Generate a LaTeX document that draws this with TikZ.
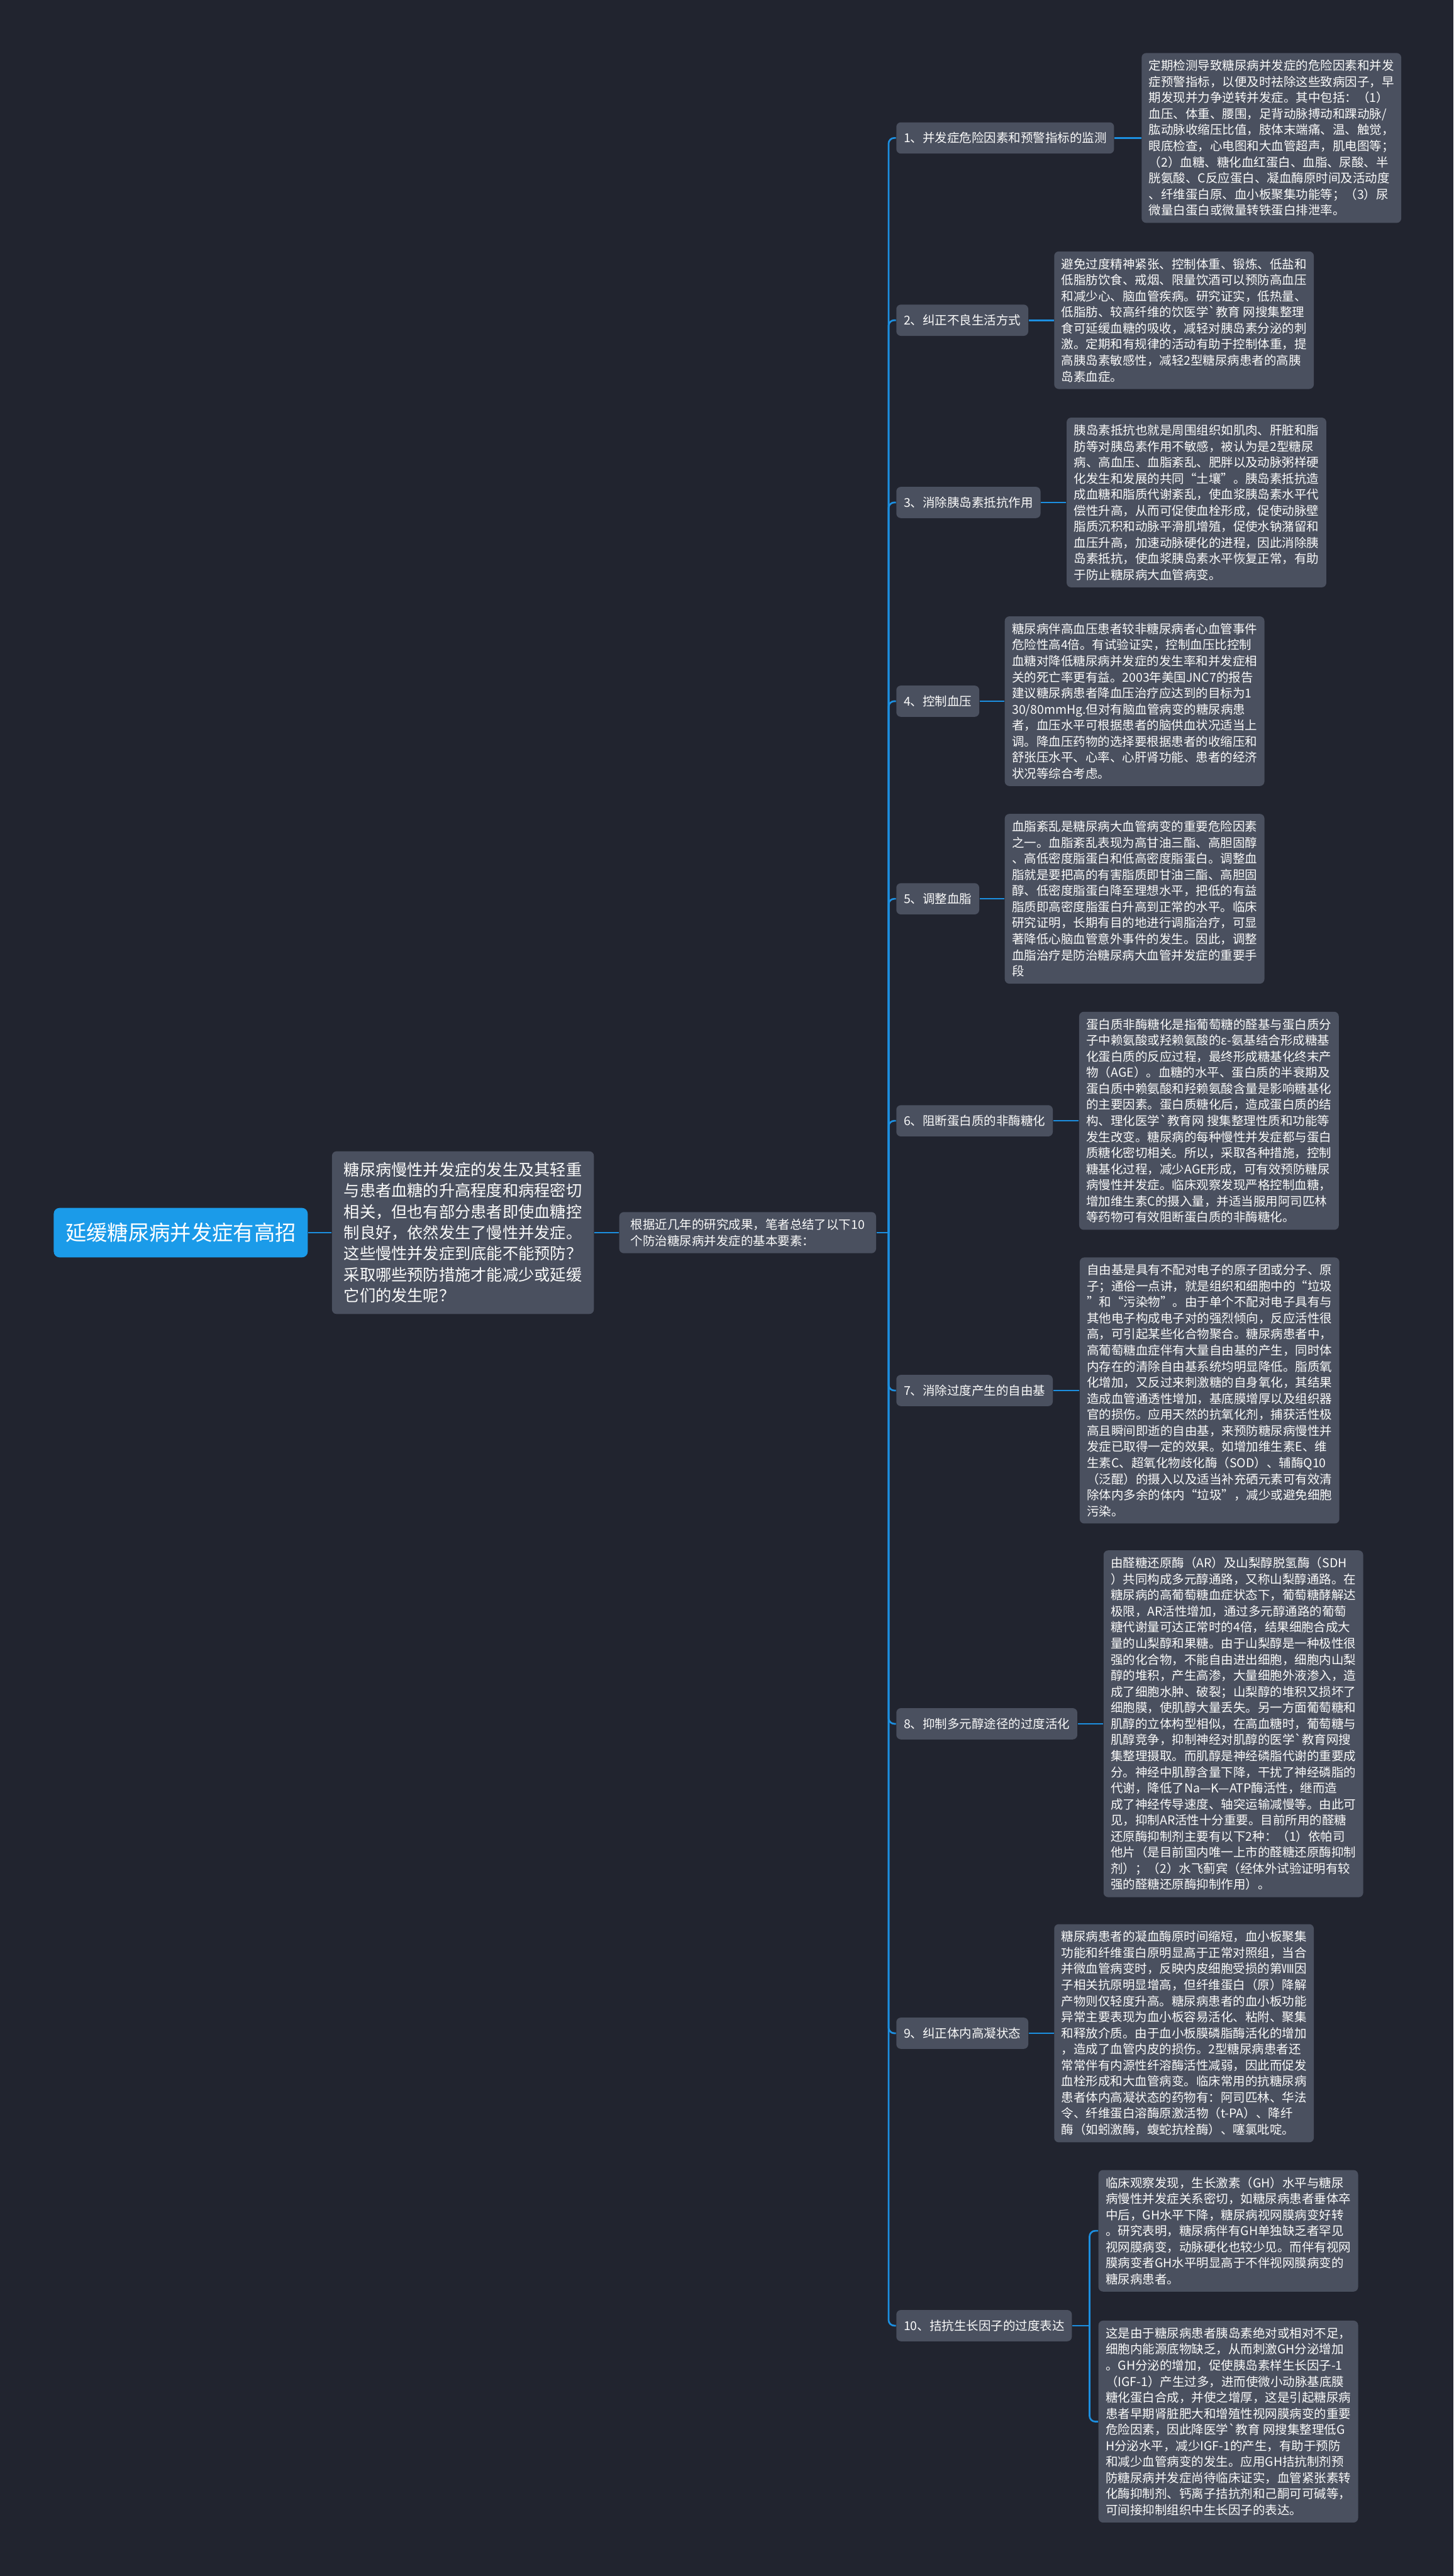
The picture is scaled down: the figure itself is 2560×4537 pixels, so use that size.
\documentclass[tikz,border=0pt]{standalone}
\usepackage{fontspec}
\newfontfamily\cjk{Noto Sans CJK SC}
\definecolor{bgdark}{HTML}{21242F}
\definecolor{boxgray}{HTML}{4A505F}
\definecolor{rootblue}{HTML}{1B9BE9}
\definecolor{linkblue}{HTML}{1C8FE0}
\definecolor{txt}{HTML}{FAFAFA}
\tikzset{
  card/.style={fill=boxgray, rounded corners=0.08cm, text=txt, align=left, anchor=west,
    font=\cjk\fontsize{6.14pt}{8.05pt}\selectfont, inner xsep=0.12cm, inner ysep=0.12cm,
    minimum width=4.57cm},
  branch/.style={fill=boxgray, rounded corners=0.08cm, text=txt, anchor=west,
    font=\cjk\fontsize{6.14pt}{8.05pt}\selectfont, inner xsep=0.13cm, minimum height=0.55cm},
  link/.style={draw=linkblue, line width=0.03cm, rounded corners=0.1cm},
}
\newcommand{\grv}{\textasciigrave}
\begin{document}
\begin{tikzpicture}[x=0.01cm, y=-0.01cm]
    \useasboundingbox (0,0) rectangle (2560,4537);
    \fill[bgdark] (0,0) rectangle (2560,4537);

    \coordinate (hub) at (1565,2171);
    \coordinate (hub10) at (1919,4096);

    \node[fill=rootblue, rounded corners=0.1cm, text=white, anchor=west,
      font=\cjk\fontsize{10.5pt}{12pt}\selectfont, minimum width=4.47cm, minimum height=0.87cm]
      (root) at (94,2171) {延缓糖尿病并发症有高招};
    \node[card, font=\cjk\fontsize{7.95pt}{10.5pt}\selectfont, inner xsep=0.2cm, inner ysep=0.195cm,
      minimum width=4.61cm] (intro) at (584,2171) {糖尿病慢性并发症的发生及其轻重\\与患者血糖的升高程度和病程密切\\相关，但也有部分患者即使血糖控\\制良好，依然发生了慢性并发症。\\这些慢性并发症到底能不能预防？\\采取哪些预防措施才能减少或延缓\\它们的发生呢？};
    \node[card, minimum width=4.52cm] (lead) at (1090,2171) {根据近几年的研究成果，笔者总结了以下10\\个防治糖尿病并发症的基本要素：};

    \node[branch] (b1) at (1578,243) {1、并发症危险因素和预警指标的监测};
    \node[branch] (b2) at (1578,564) {2、纠正不良生活方式};
    \node[branch] (b3) at (1578,885) {3、消除胰岛素抵抗作用};
    \node[branch] (b4) at (1578,1235) {4、控制血压};
    \node[branch] (b5) at (1578,1583) {5、调整血脂};
    \node[branch] (b6) at (1578,1974) {6、阻断蛋白质的非酶糖化};
    \node[branch] (b7) at (1578,2449) {7、消除过度产生的自由基};
    \node[branch] (b8) at (1578,3036) {8、抑制多元醇途径的过度活化};
    \node[branch] (b9) at (1578,3581) {9、纠正体内高凝状态};
    \node[branch] (b10) at (1578,4096) {10、拮抗生长因子的过度表达};

    \node[card] (d1) at (2010,243) {定期检测导致糖尿病并发症的危险因素和并发\\症预警指标，以便及时祛除这些致病因子，早\\期发现并力争逆转并发症。其中包括：（1）\\血压、体重、腰围，足背动脉搏动和踝动脉/\\肱动脉收缩压比值，肢体末端痛、温、触觉，\\眼底检查，心电图和大血管超声，肌电图等；\\（2）血糖、糖化血红蛋白、血脂、尿酸、半\\胱氨酸、C反应蛋白、凝血酶原时间及活动度\\、纤维蛋白原、血小板聚集功能等；（3）尿\\微量白蛋白或微量转铁蛋白排泄率。};
    \node[card] (d2) at (1856,564) {避免过度精神紧张、控制体重、锻炼、低盐和\\低脂肪饮食、戒烟、限量饮酒可以预防高血压\\和减少心、脑血管疾病。研究证实，低热量、\\低脂肪、较高纤维的饮医学\grv{}教育 网搜集整理\\食可延缓血糖的吸收，减轻对胰岛素分泌的刺\\激。定期和有规律的活动有助于控制体重，提\\高胰岛素敏感性，减轻2型糖尿病患者的高胰\\岛素血症。};
    \node[card] (d3) at (1878,885) {胰岛素抵抗也就是周围组织如肌肉、肝脏和脂\\肪等对胰岛素作用不敏感，被认为是2型糖尿\\病、高血压、血脂紊乱、肥胖以及动脉粥样硬\\化发生和发展的共同“土壤”。胰岛素抵抗造\\成血糖和脂质代谢紊乱，使血浆胰岛素水平代\\偿性升高，从而可促使血栓形成，促使动脉壁\\脂质沉积和动脉平滑肌增殖，促使水钠潴留和\\血压升高，加速动脉硬化的进程，因此消除胰\\岛素抵抗，使血浆胰岛素水平恢复正常，有助\\于防止糖尿病大血管病变。};
    \node[card] (d4) at (1769,1235) {糖尿病伴高血压患者较非糖尿病者心血管事件\\危险性高4倍。有试验证实，控制血压比控制\\血糖对降低糖尿病并发症的发生率和并发症相\\关的死亡率更有益。2003年美国JNC7的报告\\建议糖尿病患者降血压治疗应达到的目标为1\\30/80mmHg.但对有脑血管病变的糖尿病患\\者，血压水平可根据患者的脑供血状况适当上\\调。降血压药物的选择要根据患者的收缩压和\\舒张压水平、心率、心肝肾功能、患者的经济\\状况等综合考虑。};
    \node[card] (d5) at (1769,1583) {血脂紊乱是糖尿病大血管病变的重要危险因素\\之一。血脂紊乱表现为高甘油三酯、高胆固醇\\、高低密度脂蛋白和低高密度脂蛋白。调整血\\脂就是要把高的有害脂质即甘油三酯、高胆固\\醇、低密度脂蛋白降至理想水平，把低的有益\\脂质即高密度脂蛋白升高到正常的水平。临床\\研究证明，长期有目的地进行调脂治疗，可显\\著降低心脑血管意外事件的发生。因此，调整\\血脂治疗是防治糖尿病大血管并发症的重要手\\段};
    \node[card] (d6) at (1900,1974) {蛋白质非酶糖化是指葡萄糖的醛基与蛋白质分\\子中赖氨酸或羟赖氨酸的ε-氨基结合形成糖基\\化蛋白质的反应过程，最终形成糖基化终末产\\物（AGE）。血糖的水平、蛋白质的半衰期及\\蛋白质中赖氨酸和羟赖氨酸含量是影响糖基化\\的主要因素。蛋白质糖化后，造成蛋白质的结\\构、理化医学\grv{}教育网 搜集整理性质和功能等\\发生改变。糖尿病的每种慢性并发症都与蛋白\\质糖化密切相关。所以，采取各种措施，控制\\糖基化过程，减少AGE形成，可有效预防糖尿\\病慢性并发症。临床观察发现严格控制血糖，\\增加维生素C的摄入量，并适当服用阿司匹林\\等药物可有效阻断蛋白质的非酶糖化。};
    \node[card] (d7) at (1901,2449) {自由基是具有不配对电子的原子团或分子、原\\子；通俗一点讲，就是组织和细胞中的“垃圾\\”和“污染物”。由于单个不配对电子具有与\\其他电子构成电子对的强烈倾向，反应活性很\\高，可引起某些化合物聚合。糖尿病患者中，\\高葡萄糖血症伴有大量自由基的产生，同时体\\内存在的清除自由基系统均明显降低。脂质氧\\化增加，又反过来刺激糖的自身氧化，其结果\\造成血管通透性增加，基底膜增厚以及组织器\\官的损伤。应用天然的抗氧化剂，捕获活性极\\高且瞬间即逝的自由基，来预防糖尿病慢性并\\发症已取得一定的效果。如增加维生素E、维\\生素C、超氧化物歧化酶（SOD）、辅酶Q10\\（泛醌）的摄入以及适当补充硒元素可有效清\\除体内多余的体内“垃圾”，减少或避免细胞\\污染。};
    \node[card] (d8) at (1943,3036) {由醛糖还原酶（AR）及山梨醇脱氢酶（SDH\\）共同构成多元醇通路，又称山梨醇通路。在\\糖尿病的高葡萄糖血症状态下，葡萄糖酵解达\\极限，AR活性增加，通过多元醇通路的葡萄\\糖代谢量可达正常时的4倍，结果细胞合成大\\量的山梨醇和果糖。由于山梨醇是一种极性很\\强的化合物，不能自由进出细胞，细胞内山梨\\醇的堆积，产生高渗，大量细胞外液渗入，造\\成了细胞水肿、破裂；山梨醇的堆积又损坏了\\细胞膜，使肌醇大量丢失。另一方面葡萄糖和\\肌醇的立体构型相似，在高血糖时，葡萄糖与\\肌醇竞争，抑制神经对肌醇的医学\grv{}教育网搜\\集整理摄取。而肌醇是神经磷脂代谢的重要成\\分。神经中肌醇含量下降，干扰了神经磷脂的\\代谢，降低了Na—K—ATP酶活性，继而造\\成了神经传导速度、轴突运输减慢等。由此可\\见，抑制AR活性十分重要。目前所用的醛糖\\还原酶抑制剂主要有以下2种：（1）依帕司\\他片（是目前国内唯一上市的醛糖还原酶抑制\\剂）；（2）水飞蓟宾（经体外试验证明有较\\强的醛糖还原酶抑制作用）。};
    \node[card] (d9) at (1856,3581) {糖尿病患者的凝血酶原时间缩短，血小板聚集\\功能和纤维蛋白原明显高于正常对照组，当合\\并微血管病变时，反映内皮细胞受损的第Ⅷ因\\子相关抗原明显增高，但纤维蛋白（原）降解\\产物则仅轻度升高。糖尿病患者的血小板功能\\异常主要表现为血小板容易活化、粘附、聚集\\和释放介质。由于血小板膜磷脂酶活化的增加\\，造成了血管内皮的损伤。2型糖尿病患者还\\常常伴有内源性纤溶酶活性减弱，因此而促发\\血栓形成和大血管病变。临床常用的抗糖尿病\\患者体内高凝状态的药物有：阿司匹林、华法\\令、纤维蛋白溶酶原激活物（t-PA）、降纤\\酶（如蚓激酶，蝮蛇抗栓酶）、噻氯吡啶。};
    \node[card] (d10a) at (1934,3929) {临床观察发现，生长激素（GH）水平与糖尿\\病慢性并发症关系密切，如糖尿病患者垂体卒\\中后，GH水平下降，糖尿病视网膜病变好转\\。研究表明，糖尿病伴有GH单独缺乏者罕见\\视网膜病变，动脉硬化也较少见。而伴有视网\\膜病变者GH水平明显高于不伴视网膜病变的\\糖尿病患者。};
    \node[card] (d10b) at (1934,4265) {这是由于糖尿病患者胰岛素绝对或相对不足，\\细胞内能源底物缺乏，从而刺激GH分泌增加\\。GH分泌的增加，促使胰岛素样生长因子-1\\（IGF-1）产生过多，进而使微小动脉基底膜\\糖化蛋白合成，并使之增厚，这是引起糖尿病\\患者早期肾脏肥大和增殖性视网膜病变的重要\\危险因素，因此降医学\grv{}教育 网搜集整理低G\\H分泌水平，减少IGF-1的产生，有助于预防\\和减少血管病变的发生。应用GH拮抗制剂预\\防糖尿病并发症尚待临床证实，血管紧张素转\\化酶抑制剂、钙离子拮抗剂和己酮可可碱等，\\可间接抑制组织中生长因子的表达。};

    \draw[link] (root) -- (intro);
    \draw[link] (intro) -- (lead);
    \draw[link] (lead) -- (hub);
    \foreach \i in {1,...,10}
        \draw[link] (hub) |- (b\i.west);
    \foreach \i in {1,...,9}
        \draw[link] (b\i) -- (d\i);
    \draw[link] (b10) -- (hub10);
    \draw[link] (hub10) |- (d10a.west);
    \draw[link] (hub10) |- (d10b.west);
\end{tikzpicture}
\end{document}
